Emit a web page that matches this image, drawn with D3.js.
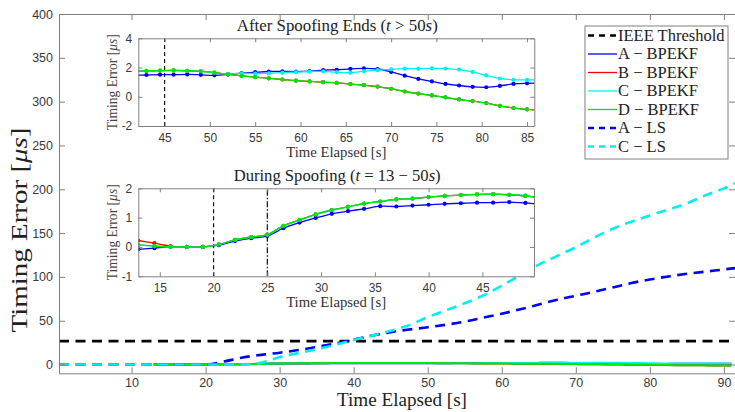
<!DOCTYPE html>
<html>
<head>
<meta charset="utf-8">
<script src="https://cdn.jsdelivr.net/npm/d3@7"></script>
<style>
  body { margin: 0; background: #fff; }
  svg { display: block; }
  .tick text { font-family: "Liberation Sans", Arial, sans-serif; fill: #3a3a3a; }
  .domain, .tick line { stroke: #808080; }
  .serif { font-family: "Liberation Serif", "DejaVu Serif", serif; }
</style>
</head>
<body>
<div id="chart"></div>
<script>
// BPEKF estimates, sampled every 1.5 s from t = 13 s
var bpTime = [13, 14.5, 16, 17.5, 19, 20.5, 22, 23.5, 25, 26.5, 28, 29.5, 31, 32.5, 34, 35.5, 37, 38.5, 40, 41.5, 43, 44.5, 46, 47.5, 49, 50.5, 52, 53.5, 55, 56.5, 58, 59.5, 61, 62.5, 64, 65.5, 67, 68.5, 70, 71.5, 73, 74.5, 76, 77.5, 79, 80.5, 82, 83.5, 85, 86.5, 88, 89.5, 91];
var aBP = [-0.08, -0.04, 0, 0, 0, 0.06, 0.20, 0.30, 0.37, 0.64, 0.83, 0.99, 1.13, 1.22, 1.30, 1.39, 1.38, 1.41, 1.44, 1.47, 1.49, 1.51, 1.51, 1.53, 1.50, 1.47, 1.53, 1.62, 1.68, 1.73, 1.74, 1.72, 1.75, 1.82, 1.85, 1.91, 1.94, 1.90, 1.70, 1.44, 1.22, 1.05, 0.88, 0.77, 0.68, 0.65, 0.74, 0.88, 0.92, 0.93, 0.95, 0.96, 0.97];
var bBP = [0.22, 0.13, 0.03, 0, 0, 0.09, 0.24, 0.34, 0.42, 0.72, 0.92, 1.11, 1.26, 1.37, 1.48, 1.55, 1.62, 1.65, 1.70, 1.74, 1.77, 1.79, 1.80, 1.78, 1.74, 1.66, 1.53, 1.43, 1.34, 1.26, 1.18, 1.10, 1.05, 1.00, 0.95, 0.87, 0.79, 0.70, 0.55, 0.36, 0.22, 0.09, -0.04, -0.18, -0.30, -0.44, -0.62, -0.77, -0.86, -0.92, -0.98, -1.05, -1.10];
var cBP = [0.07, 0.03, 0, 0, 0, 0.09, 0.24, 0.34, 0.42, 0.72, 0.92, 1.11, 1.26, 1.37, 1.48, 1.55, 1.62, 1.65, 1.70, 1.74, 1.77, 1.79, 1.80, 1.78, 1.76, 1.64, 1.57, 1.60, 1.59, 1.60, 1.65, 1.69, 1.73, 1.74, 1.68, 1.65, 1.75, 1.82, 1.88, 1.92, 1.92, 1.94, 1.93, 1.86, 1.70, 1.46, 1.25, 1.16, 1.15, 1.15, 1.16, 1.17, 1.18];
var dBP = [0.07, 0.03, 0, 0, 0, 0.09, 0.24, 0.34, 0.42, 0.72, 0.92, 1.11, 1.26, 1.37, 1.48, 1.55, 1.62, 1.65, 1.70, 1.74, 1.77, 1.79, 1.80, 1.78, 1.74, 1.66, 1.53, 1.43, 1.34, 1.26, 1.18, 1.10, 1.05, 1.00, 0.95, 0.87, 0.79, 0.70, 0.55, 0.36, 0.22, 0.09, -0.04, -0.18, -0.30, -0.44, -0.62, -0.77, -0.86, -0.92, -0.98, -1.05, -1.10];

// least squares estimates
var lsTime = [0.2, 5, 10, 15, 20, 22.5, 25, 27.5, 30, 32.5, 35, 37.5, 40, 42.5, 45, 47.5, 50, 52.5, 55, 57.5, 60, 62.5, 65, 67.5, 70, 72.5, 75, 77.5, 80, 82.5, 85, 87.5, 90, 91.5];
var aLS = [0, 0, 0, 0, 0, 3.5, 8, 11, 13.5, 16.5, 20, 24, 28.5, 33, 37, 40, 42.5, 45.5, 49, 53.5, 58, 63, 68.5, 74, 78.5, 83, 88, 93, 97, 100.5, 103.5, 106, 108.5, 110];
var cLS = [0, 0, 0, 0, 0, 0, 0, 2, 8.5, 13, 17.5, 22.5, 28, 33, 38.5, 45, 54, 62, 70, 79, 90, 102, 114, 124, 134, 145, 155, 163, 170, 177, 184, 193, 201, 207];

var threshold = 26.7;

var mainXTicks = [10, 20, 30, 40, 50, 60, 70, 80, 90];
var mainYTicks = [0, 50, 100, 150, 200, 250, 300, 350, 400];
var afterXTicks = [45, 50, 55, 60, 65, 70, 75, 80, 85];
var afterYTicks = [-2, 0, 2, 4];
var duringXTicks = [15, 20, 25, 30, 35, 40, 45];
var duringYTicks = [-1, 0, 1, 2];
var spoofMarks = [20, 25];
var endMark = [45];

var legendLabels = ['IEEE Threshold', 'A \u2212 BPEKF', 'B \u2212 BPEKF', 'C \u2212 BPEKF', 'D \u2212 BPEKF', 'A \u2212 LS', 'C \u2212 LS'];

var colors = { A: '#0000ff', B: '#ff0000', C: '#00f0f0', D: '#00e600', T: '#000000' };

var bpSeries = [
	{ key: 'A', values: aBP },
	{ key: 'B', values: bBP },
	{ key: 'C', values: cBP },
	{ key: 'D', values: dBP }
];
var lsSeries = [
	{ key: 'A', values: aLS },
	{ key: 'C', values: cLS }
];

var svg = d3.select('#chart').append('svg').attr('width', 735).attr('height', 412);

// ---- main axes ----
var x = d3.scaleLinear().domain([0.2, 91.5]).range([59, 735]);
var y = d3.scaleLinear().domain([-10, 400]).range([373.3, 14]);

svg.append('clipPath').attr('id', 'mainClip').append('rect')
	.attr('x', 59).attr('y', 14).attr('width', 676).attr('height', 359.3);

var plot = svg.append('g').attr('clip-path', 'url(#mainClip)');

plot.append('line')
	.attr('x1', x(0.2)).attr('x2', x(91.5))
	.attr('y1', y(threshold)).attr('y2', y(threshold))
	.attr('stroke', colors.T).attr('stroke-width', 2.6)
	.attr('stroke-dasharray', '10,6.5');

var mainLine = d3.line().curve(d3.curveCatmullRom.alpha(0.5));

bpSeries.forEach(function(s) {
	var pts = bpTime.map(function(t, i) { return [x(t), y(s.values[i])]; });
	plot.append('path')
		.attr('d', mainLine(pts))
		.attr('fill', 'none')
		.attr('stroke', colors[s.key])
		.attr('stroke-width', 2);
});

lsSeries.forEach(function(s) {
	var pts = lsTime.map(function(t, i) { return [x(t), y(s.values[i])]; });
	plot.append('path')
		.attr('d', d3.line().curve(d3.curveMonotoneX)(pts))
		.attr('fill', 'none')
		.attr('stroke', colors[s.key])
		.attr('stroke-width', 2.6)
		.attr('stroke-dasharray', '10,6.5');
});

var plain = function(d) { return String(d); };

function box(g, xs, ys, xt, yt, fs, tl, pad) {
	var x0 = xs.range()[0], x1 = xs.range()[1], y0 = ys.range()[0], y1 = ys.range()[1];
	g.append('g').attr('transform', 'translate(0,' + y0 + ')')
		.call(d3.axisBottom(xs).tickValues(xt).tickFormat(plain).tickSize(-tl).tickPadding(pad).tickSizeOuter(0))
		.selectAll('text').style('font-size', fs + 'px');
	g.append('g').attr('transform', 'translate(' + x0 + ',0)')
		.call(d3.axisLeft(ys).tickValues(yt).tickFormat(plain).tickSize(-tl).tickPadding(6).tickSizeOuter(0))
		.selectAll('text').style('font-size', fs + 'px');
	g.append('g').attr('transform', 'translate(0,' + y1 + ')')
		.call(d3.axisTop(xs).tickValues(xt).tickSize(-tl).tickFormat('').tickSizeOuter(0));
	g.append('g').attr('transform', 'translate(' + x1 + ',0)')
		.call(d3.axisRight(ys).tickValues(yt).tickSize(-tl).tickFormat('').tickSizeOuter(0));
	g.selectAll('.domain').attr('stroke', '#808080');
}

var mainAxes = svg.append('g');
box(mainAxes, x, y, mainXTicks, mainYTicks, 12.5, 6, 5);

svg.append('text').attr('class', 'serif')
	.attr('x', 402).attr('y', 406).attr('text-anchor', 'middle')
	.attr('textLength', 130).attr('lengthAdjust', 'spacingAndGlyphs')
	.style('font-size', '18.5px').attr('fill', '#222')
	.text('Time Elapsed [s]');

var ylab = svg.append('text').attr('class', 'serif')
	.attr('transform', 'translate(27,230) rotate(-90)')
	.attr('text-anchor', 'middle')
	.attr('textLength', 205).attr('lengthAdjust', 'spacingAndGlyphs')
	.style('font-size', '23px').attr('fill', '#222');
ylab.append('tspan').text('Timing Error [');
ylab.append('tspan').style('font-style', 'italic').text('\u03bcs');
ylab.append('tspan').text(']');

// ---- insets ----
function inset(id, xr, yr, xd, yd, xt, yt, marks, titleParts, ty, tw) {
	var xs = d3.scaleLinear().domain(xd).range(xr);
	var ys = d3.scaleLinear().domain(yd).range(yr);
	var g = svg.append('g');

	g.append('rect')
		.attr('x', xr[0]).attr('y', yr[1])
		.attr('width', xr[1] - xr[0]).attr('height', yr[0] - yr[1])
		.attr('fill', '#fff');

	g.append('clipPath').attr('id', id).append('rect')
		.attr('x', xr[0]).attr('y', yr[1])
		.attr('width', xr[1] - xr[0]).attr('height', yr[0] - yr[1]);

	var inner = g.append('g').attr('clip-path', 'url(#' + id + ')');

	marks.forEach(function(m) {
		inner.append('line')
			.attr('x1', xs(m.t)).attr('x2', xs(m.t))
			.attr('y1', yr[0]).attr('y2', yr[1])
			.attr('stroke', '#111').attr('stroke-width', 1.2)
			.attr('stroke-dasharray', m.dash);
	});

	var line = d3.line()
		.x(function(d) { return xs(d[0]); })
		.y(function(d) { return ys(d[1]); })
		.curve(d3.curveCatmullRom.alpha(0.5));

	bpSeries.forEach(function(s) {
		var pts = bpTime.map(function(t, i) { return [t, s.values[i]]; });
		inner.append('path')
			.attr('d', line(pts))
			.attr('fill', 'none')
			.attr('stroke', colors[s.key])
			.attr('stroke-width', 1.3);
		inner.selectAll(null).data(pts).enter().append('circle')
			.attr('cx', function(d) { return xs(d[0]); })
			.attr('cy', function(d) { return ys(d[1]); })
			.attr('r', 2.1)
			.attr('fill', colors[s.key]);
	});

	box(g, xs, ys, xt, yt, 12, 4, 7);

	var title = g.append('text').attr('class', 'serif')
		.attr('x', (xr[0] + xr[1]) / 2 + 1).attr('y', ty)
		.attr('text-anchor', 'middle')
		.attr('textLength', tw).attr('lengthAdjust', 'spacingAndGlyphs')
		.style('font-size', '16px').attr('fill', '#222');
	titleParts.forEach(function(p) {
		title.append('tspan').style('font-style', p[1] ? 'italic' : 'normal').text(p[0]);
	});

	g.append('text').attr('class', 'serif')
		.attr('x', (xr[0] + xr[1]) / 2).attr('y', yr[0] + 31)
		.attr('text-anchor', 'middle')
		.attr('textLength', 100).attr('lengthAdjust', 'spacingAndGlyphs')
		.style('font-size', '15px').attr('fill', '#333')
		.text('Time Elapsed [s]');

	var yl = g.append('text').attr('class', 'serif')
		.attr('transform', 'translate(' + (xr[0] - 21) + ',' + ((yr[0] + yr[1]) / 2) + ') rotate(-90)')
		.attr('text-anchor', 'middle')
		.attr('textLength', 96).attr('lengthAdjust', 'spacingAndGlyphs')
		.style('font-size', '14px').attr('fill', '#444');
	yl.append('tspan').text('Timing Error [');
	yl.append('tspan').style('font-style', 'italic').text('\u03bcs');
	yl.append('tspan').text(']');
}

inset('clipAfter', [138.3, 534.3], [126, 38.3], [42.1, 85.8], [-2, 4],
	afterXTicks, afterYTicks,
	endMark.map(function(t) { return { t: t, dash: '4,3' }; }),
	[['After Spoofing Ends (', false], ['t', true], [' > 50', false], ['s', true], [')', false]], 31, 201);

inset('clipDuring', [138.3, 534], [276.3, 188.3], [13, 49.8], [-1, 2],
	duringXTicks, duringYTicks,
	[{ t: spoofMarks[0], dash: '4,3' }, { t: spoofMarks[1], dash: '6,2,1.5,2' }],
	[['During Spoofing (', false], ['t', true], [' = 13 \u2212 50', false], ['s', true], [')', false]], 181, 207);

// ---- legend ----
var lg = svg.append('g');
lg.append('rect')
	.attr('x', 585).attr('y', 26).attr('width', 143).attr('height', 133)
	.attr('fill', '#fff').attr('stroke', '#808080');

var legendStyle = [
	{ c: colors.T, w: 2.6, dash: '6,5' },
	{ c: colors.A, w: 1.3, dash: null },
	{ c: colors.B, w: 1.3, dash: null },
	{ c: colors.C, w: 1.3, dash: null },
	{ c: colors.D, w: 1.3, dash: null },
	{ c: colors.A, w: 2.6, dash: '6,5' },
	{ c: colors.C, w: 2.6, dash: '6,5' }
];

var ly = d3.scalePoint().domain(legendLabels).range([35.5, 146.5]);

legendLabels.forEach(function(lab, i) {
	var st = legendStyle[i];
	lg.append('line')
		.attr('x1', 588).attr('x2', 617)
		.attr('y1', ly(lab)).attr('y2', ly(lab))
		.attr('stroke', st.c).attr('stroke-width', st.w)
		.attr('stroke-dasharray', st.dash);
	lg.append('text').attr('class', 'serif')
		.attr('x', 618).attr('y', ly(lab) + 5)
		.style('font-size', '16.5px').attr('fill', '#222')
		.text(lab);
});
</script>
</body>
</html>
